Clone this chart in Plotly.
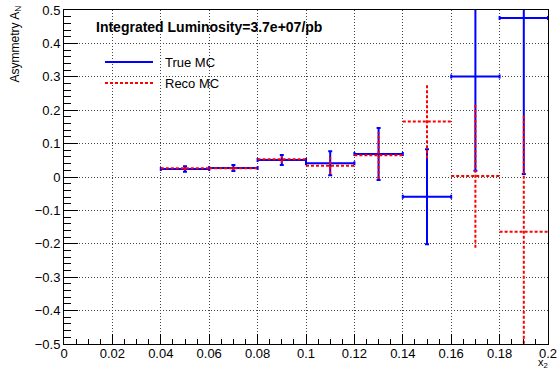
import plotly.graph_objects as go

# ---- data ----
x_centers = [0.05, 0.07, 0.09, 0.11, 0.13, 0.15, 0.17, 0.19]
x_halfwidth = [0.01] * 8
true_mc = [0.024, 0.027, 0.051, 0.041, 0.069, -0.059, 0.301, 0.476]
true_err = [0.008, 0.009, 0.015, 0.036, 0.078, 0.142, 0.282, 0.467]
reco_mc = [0.026, 0.026, 0.053, 0.034, 0.065, 0.166, 0.003, -0.164]
reco_err = [0.006, 0.006, 0.010, 0.026, 0.070, 0.110, 0.215, 0.350]

title_text = "Integrated Luminosity=3.7e+07/pb"
y_title = "Asymmetry A<sub>N</sub>"
x_title = "x<sub>2</sub>"

FONT = "Liberation Sans, Arial, Helvetica, sans-serif"

fig = go.Figure()

# True MC: points with x and y error bars (caps)
fig.add_trace(go.Scatter(
    x=x_centers, y=true_mc, mode="markers",
    marker=dict(size=1, color="blue"),
    error_x=dict(type="data", array=x_halfwidth, color="blue", thickness=2, width=2),
    error_y=dict(type="data", array=true_err, color="blue", thickness=2, width=2),
    showlegend=False, hoverinfo="skip",
))

# Reco MC: dotted red crosses built from the data
rx, ry = [], []
for xc, xw, yv, ye in zip(x_centers, x_halfwidth, reco_mc, reco_err):
    rx += [xc - xw, xc + xw, None, xc, xc, None]
    ry += [yv, yv, None, yv - ye, yv + ye, None]
fig.add_trace(go.Scatter(
    x=rx, y=ry, mode="lines",
    line=dict(color="red", width=2, dash="3px,2px"),
    showlegend=False, hoverinfo="skip", connectgaps=False,
))

axis_common = dict(
    showline=True, linecolor="black", linewidth=1, mirror=True,
    ticks="inside", tickcolor="black",
    showgrid=True, gridcolor="#444", griddash="1px,2px", gridwidth=1,
    zeroline=False, automargin=False,
    tickfont=dict(family=FONT, size=13, color="black"),
)

fig.update_xaxes(range=[0, 0.2], dtick=0.02, tick0=0, ticklen=10, ticklabelstandoff=-3,
                 minor=dict(ticks="inside", dtick=0.005, ticklen=5, tickcolor="black", showgrid=False),
                 **axis_common)
fig.update_yaxes(range=[-0.5, 0.5], dtick=0.1, tick0=0, ticklen=14,
                 minor=dict(ticks="inside", dtick=0.02, ticklen=7, tickcolor="black", showgrid=False),
                 **axis_common)

L, R, T, B = 64, 10, 10, 28
W, H = 558, 372
pw, ph = W - L - R, H - T - B

def px(xp):
    return (xp - L) / pw

def py(yp):
    return (H - B - yp) / ph

annotations = [
    dict(text="<b>" + title_text + "</b>", x=px(94), y=py(27), xref="paper", yref="paper",
         xanchor="left", yanchor="middle", showarrow=False,
         font=dict(family=FONT, size=14, color="black")),
    dict(text="True MC", x=px(163), y=py(62), xref="paper", yref="paper",
         xanchor="left", yanchor="middle", showarrow=False,
         font=dict(family=FONT, size=13, color="black")),
    dict(text="Reco MC", x=px(163), y=py(83), xref="paper", yref="paper",
         xanchor="left", yanchor="middle", showarrow=False,
         font=dict(family=FONT, size=13, color="black")),
    dict(text=y_title, x=px(16), y=py(4), xref="paper", yref="paper",
         xanchor="center", yanchor="top", textangle=-90, showarrow=False,
         font=dict(family=FONT, size=12, color="black")),
    dict(text=x_title, x=px(550), y=py(372), xref="paper", yref="paper",
         xanchor="right", yanchor="bottom", showarrow=False,
         font=dict(family=FONT, size=11, color="black")),
]

shapes = [
    dict(type="line", xref="paper", yref="paper", x0=px(105), x1=px(153), y0=py(62), y1=py(62),
         line=dict(color="blue", width=2)),
    dict(type="line", xref="paper", yref="paper", x0=px(105), x1=px(153), y0=py(83), y1=py(83),
         line=dict(color="red", width=2, dash="3px,2px")),
]

fig.update_layout(
    width=W, height=H,
    margin=dict(l=L, r=R, t=T, b=B, pad=0, autoexpand=False),
    paper_bgcolor="white", plot_bgcolor="white",
    annotations=annotations, shapes=shapes,
    showlegend=False,
    font=dict(family=FONT),
)

fig.write_html(
    "out.html",
    config={"displayModeBar": False},
    post_script="document.body.style.margin='0';document.body.style.overflow='hidden';",
)
